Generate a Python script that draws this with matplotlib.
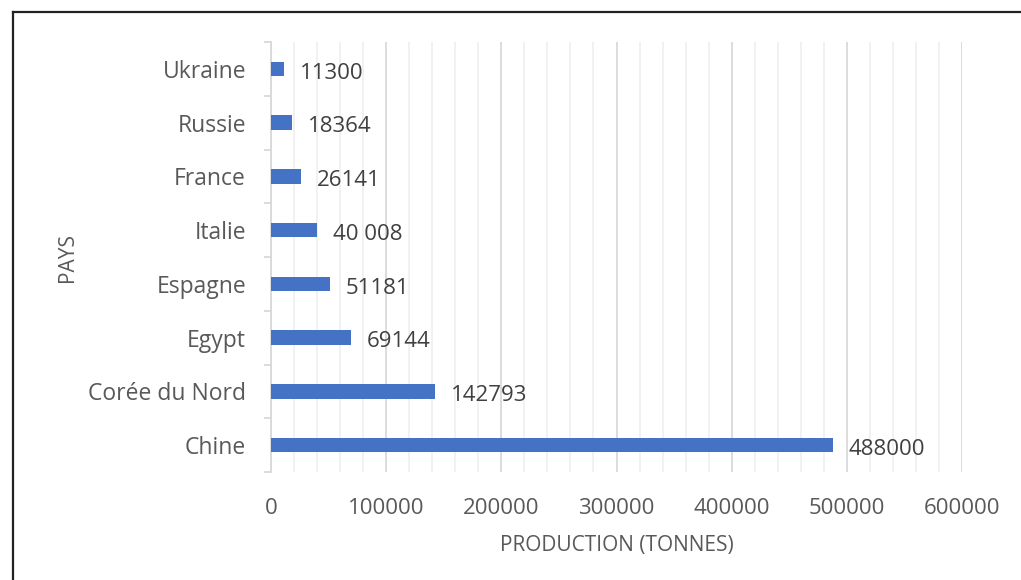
import matplotlib
matplotlib.use("Agg")
import matplotlib.pyplot as plt
from matplotlib.lines import Line2D
from matplotlib.ticker import MultipleLocator

plt.rcParams['font.family'] = ['Open Sans', 'DejaVu Sans']

pays = ['Chine', 'Corée du Nord', 'Egypt', 'Espagne', 'Italie', 'France', 'Russie', 'Ukraine']
production = [488000, 142793, 69144, 51181, 40008, 26141, 18364, 11300]
etiquettes = ['488000', '142793', '69144', '51181', '40 008', '26141', '18364', '11300']
x_ticks = [0, 100000, 200000, 300000, 400000, 500000, 600000]

fig = plt.figure(figsize=(10.21, 5.80), dpi=100)
ax = fig.add_axes([271 / 1021, 1 - 472 / 580, 691 / 1021, 430 / 580])

pos = list(range(len(pays)))
ax.barh(pos, production, height=0.27, color='#4472C4', zorder=3)

for y, v, txt in zip(pos, production, etiquettes):
    ax.annotate(txt, (v, y), xytext=(11.5, -3), textcoords='offset points',
                va='center', ha='left', fontsize=16, color='#404040')

ax.set_xlim(0, 600000)
ax.set_ylim(-0.5, len(pays) - 0.5)
ax.set_xticks(x_ticks)
ax.set_xticklabels([str(t) for t in x_ticks])
ax.xaxis.set_minor_locator(MultipleLocator(20000))
ax.grid(axis='x', which='major', color='#d9d9d9', linewidth=1.3, zorder=0)
ax.grid(axis='x', which='minor', color='#f0f0f0', linewidth=1.3, zorder=0)

ax.set_yticks(pos)
ax.set_yticklabels(pays)
ax.set_yticks([p - 0.5 for p in pos] + [len(pays) - 0.5], minor=True)

ax.tick_params(axis='y', which='major', length=0, pad=18, labelsize=16.5, labelcolor='#595959')
ax.tick_params(axis='y', which='minor', length=5, width=1.3, color='#d9d9d9')
ax.tick_params(axis='x', which='both', length=0, pad=19, labelsize=16, labelcolor='#595959')

for s in ['top', 'right', 'bottom']:
    ax.spines[s].set_visible(False)
ax.spines['left'].set_color('#d9d9d9')
ax.spines['left'].set_linewidth(1.3)

ax.set_xlabel('PRODUCTION (TONNES)', fontsize=15, color='#595959')
ax.set_ylabel('PAYS', fontsize=15, color='#595959')
ax.xaxis.set_label_coords(0.5, -0.146)
ax.yaxis.set_label_coords(-0.28, 0.5)

# cadre (haut et gauche seulement visibles)
fig.add_artist(Line2D([13 / 1021, 1.0], [1 - 12 / 580, 1 - 12 / 580], color='#222222', linewidth=1.6, transform=fig.transFigure))
fig.add_artist(Line2D([13 / 1021, 13 / 1021], [0.0, 1 - 12 / 580], color='#222222', linewidth=1.6, transform=fig.transFigure))

fig.savefig('out.png', dpi=100)
